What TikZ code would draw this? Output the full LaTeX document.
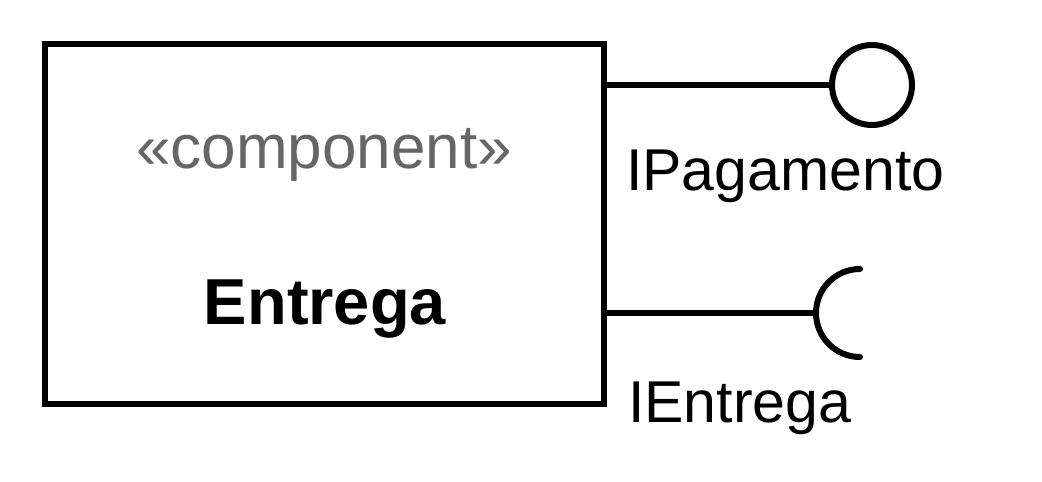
\documentclass[tikz,border=0pt]{standalone}
\usepackage{fontspec}
\setmainfont{Liberation Sans}
\definecolor{stereo}{HTML}{666666}
\begin{document}
\begin{tikzpicture}[x=1pt,y=-1pt,
  thick line/.style={line width=6pt, draw=black},
  lbl/.style={inner sep=0pt, anchor=base west, font=\fontsize{59}{59}\selectfont},
]
\useasboundingbox (0,0) rectangle (1042,482);
\node[thick line, rectangle, minimum width=559pt, minimum height=360pt, inner sep=0pt] (comp) at (324.5,224) {};
\node[inner sep=0pt, anchor=base, text=stereo, font=\fontsize{62}{62}\selectfont] (st) at (324,168) {«component»};
\node[inner sep=0pt, anchor=base, font=\fontsize{65}{65}\selectfont\bfseries] (nm) at (325,324) {Entrega};
% provided interface
\coordinate (p1) at (604,85);
\node[thick line, circle, minimum size=80pt, inner sep=0pt] (ball) at (872,85) {};
\draw[thick line] (p1) -- (ball.west);
\node[lbl] (lp) at (626,190) {IPagamento};
% required interface
\coordinate (p2) at (604,313);
\coordinate (sock) at (815,313);
\draw[thick line] (p2) -- (sock);
\draw[thick line, line cap=round] (860,269) arc[start angle=-90, end angle=-270, radius=44];
\node[lbl] (le) at (628,422) {IEntrega};
\end{tikzpicture}
\end{document}
